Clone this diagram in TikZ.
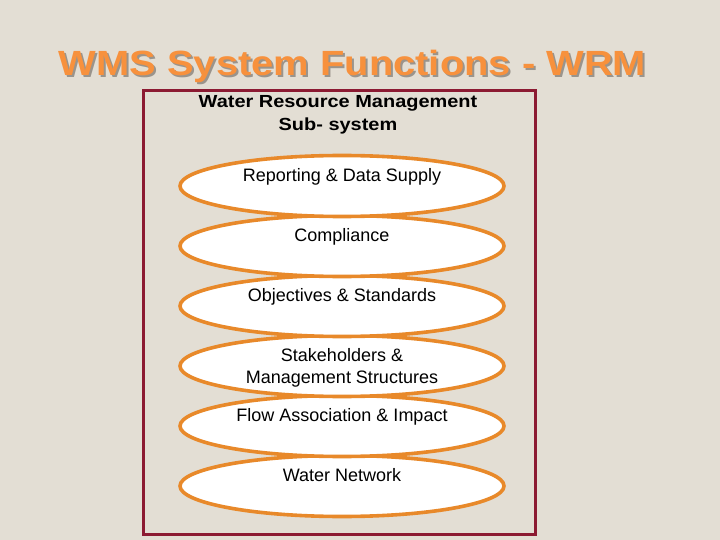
\documentclass[tikz,border=0pt]{standalone}
\usepackage{fontspec}
\setmainfont{Liberation Sans}
\newfontfamily\widebold[FakeStretch=1.14]{Liberation Sans Bold}
\definecolor{bg}{HTML}{E3DED4}
\definecolor{ttl}{HTML}{F7913D}
\definecolor{shadowgray}{HTML}{9A948C}
\definecolor{frame}{HTML}{8C1A32}
\definecolor{ring}{HTML}{E8892A}
\tikzset{
  func/.style={ellipse, draw=ring, line width=3.6pt, fill=white, minimum width=324pt, minimum height=61pt, inner sep=0pt},
  functext/.style={anchor=north, font=\fontsize{18}{22}\selectfont, align=center, text=black, inner sep=0pt},
  titletext/.style={font=\widebold\fontsize{35}{40}\selectfont},
}
\usetikzlibrary{shapes.geometric}
\begin{document}
\begin{tikzpicture}[x=1pt,y=-1pt]
\useasboundingbox (0,0) rectangle (720,540);
\fill[bg] (0,0) rectangle (720,540);
% title with shadow
\node[titletext, text=shadowgray] at (354.5,68) {WMS System Functions - WRM};
\node (title) [titletext, text=ttl] at (352.5,66) {WMS System Functions - WRM};
% frame
\draw[frame, line width=3pt] (143.5,91) rectangle (535.5,534);
\node (head) [font=\widebold\fontsize{17.5}{23}\selectfont, align=center] at (338,115) {Water Resource Management\\Sub- system};
% ellipses, bottom first
\node (e6) [func] at (342,486) {};
\node (e5) [func] at (342,426) {};
\node (e4) [func] at (342,366) {};
\node (e3) [func] at (342,306) {};
\node (e2) [func] at (342,246) {};
\node (e1) [func] at (342,186) {};
\node[functext] at ([yshift=18pt]e1.center) {Reporting \& Data Supply};
\node[functext] at ([yshift=18pt]e2.center) {Compliance};
\node[functext] at ([yshift=18pt]e3.center) {Objectives \& Standards};
\node[functext] at ([yshift=18pt]e4.center) {Stakeholders \&\\Management Structures};
\node[functext] at ([yshift=18pt]e5.center) {Flow Association \& Impact};
\node[functext] at ([yshift=18pt]e6.center) {Water Network};
\end{tikzpicture}
\end{document}
